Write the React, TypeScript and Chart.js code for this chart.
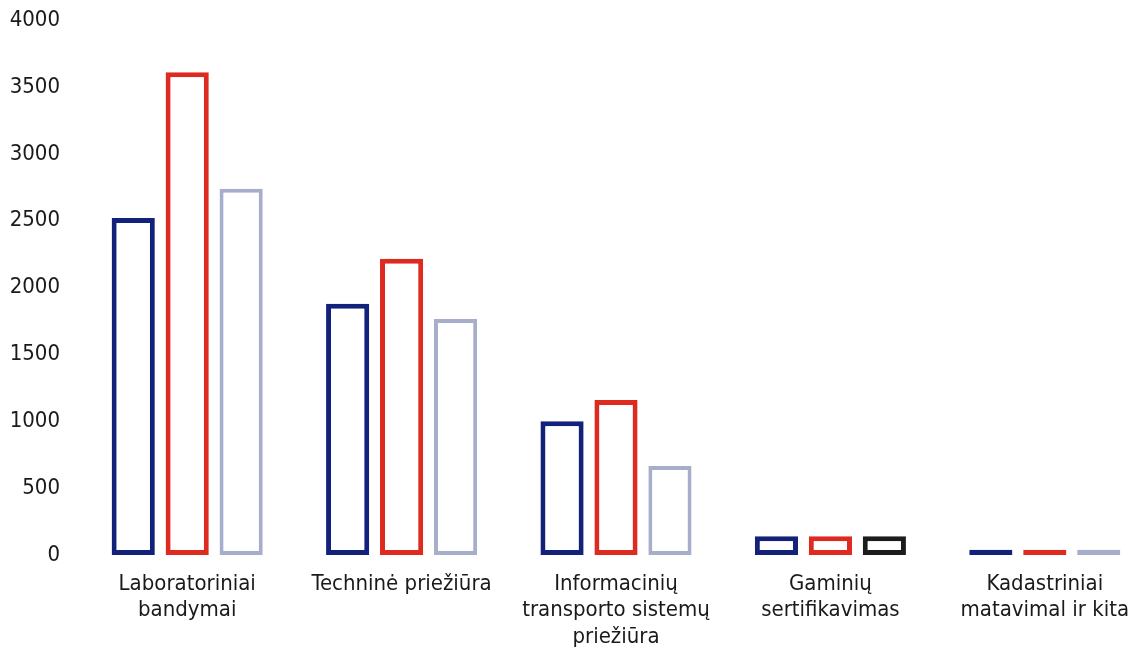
import React, { useEffect, useRef } from "react";
import { Chart, registerables } from "chart.js";

Chart.register(...registerables);

const categories: string[][] = [
  ["Laboratoriniai", "bandymai"],
  ["Techninė priežiūra"],
  ["Informacinių", "transporto sistemų", "priežiūra"],
  ["Gaminių", "sertifikavimas"],
  ["Kadastriniai", "matavimal ir kita"],
];

const seriesA: number[] = [2520, 1880, 1000, 140, 40];
const seriesB: number[] = [3610, 2215, 1160, 140, 40];
const seriesC: number[] = [2740, 1765, 665, 140, 40];

const yTicks: number[] = [0, 500, 1000, 1500, 2000, 2500, 3000, 3500, 4000];

const FONT = '"DejaVu Sans Condensed", "DejaVu Sans", Tahoma, sans-serif';

export default function App() {
  const ref = useRef<HTMLCanvasElement | null>(null);

  useEffect(() => {
    if (!ref.current) return;
    const lightC = "#a7aecb";
    const chart = new Chart(ref.current, {
      type: "bar",
      data: {
        labels: categories,
        datasets: [
          {
            label: "A",
            data: seriesA,
            backgroundColor: "#ffffff",
            borderColor: "#12217a",
            borderWidth: 5,
            borderSkipped: false,
            categoryPercentage: 0.755,
            barPercentage: 0.8,
          },
          {
            label: "B",
            data: seriesB,
            backgroundColor: "#ffffff",
            borderColor: "#df2a20",
            borderWidth: 5,
            borderSkipped: false,
            categoryPercentage: 0.755,
            barPercentage: 0.8,
          },
          {
            label: "C",
            data: seriesC,
            backgroundColor: "#ffffff",
            borderColor: [lightC, lightC, lightC, "#1c1c1c", lightC],
            borderWidth: [4, 4, 4, 5, 4],
            borderSkipped: false,
            categoryPercentage: 0.755,
            barPercentage: 0.8,
          },
        ],
      },
      options: {
        animation: false,
        responsive: false,
        maintainAspectRatio: false,
        layout: { padding: { top: 10, right: 0, bottom: 0, left: 0 } },
        plugins: { legend: { display: false }, tooltip: { enabled: false } },
        scales: {
          x: {
            grid: { display: false },
            border: { display: false },
            ticks: {
              color: "#1a1a1a",
              font: { family: FONT, size: 22, lineHeight: 1.2 },
              padding: 8,
              maxRotation: 0,
              autoSkip: false,
            },
            afterFit: (s: any) => {
              s.height = 98;
            },
          },
          y: {
            min: 0,
            max: 4000,
            grid: { display: false },
            border: { display: false },
            afterBuildTicks: (s: any) => {
              s.ticks = yTicks.map((v) => ({ value: v }));
            },
            ticks: {
              color: "#1a1a1a",
              font: { family: FONT, size: 22 },
              padding: 12,
              callback: (v: any) => String(v),
            },
            afterFit: (s: any) => {
              s.width = 80;
            },
          },
        },
      },
    });
    return () => chart.destroy();
  }, []);

  return (
    <div
      style={{
        position: "fixed",
        left: 0,
        top: 0,
        width: 1136,
        height: 653,
        overflow: "hidden",
        background: "#fff",
      }}
    >
      <canvas
        ref={ref}
        width={1152}
        height={658}
        style={{ display: "block", position: "absolute", left: 0, top: -5 }}
      />
    </div>
  );
}
